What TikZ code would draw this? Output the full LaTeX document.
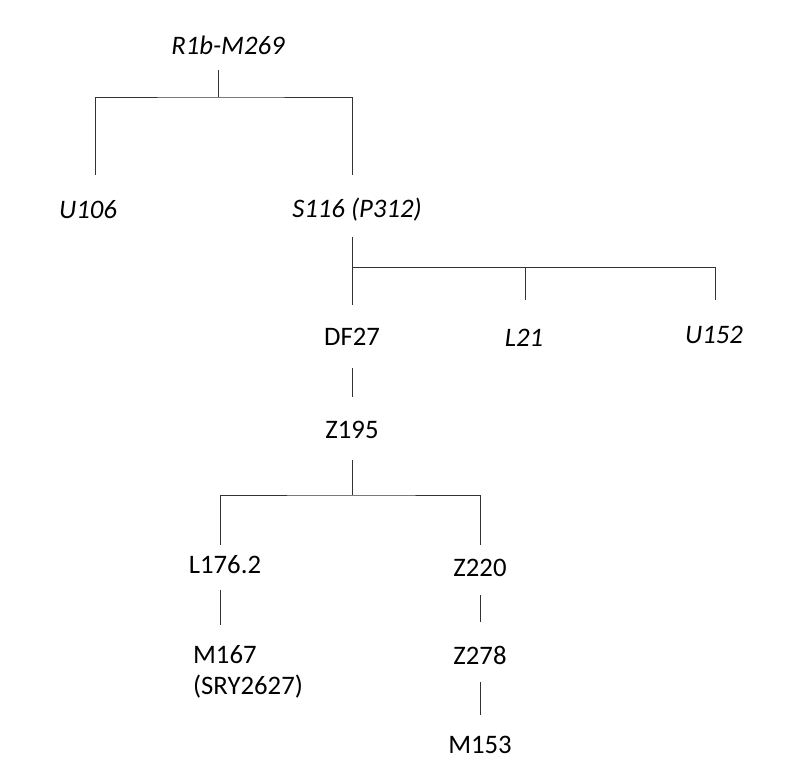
\documentclass[tikz,border=0pt]{standalone}
\usepackage{fontspec}
\setmainfont{Carlito}
\usetikzlibrary{positioning}
\begin{document}
\begin{tikzpicture}[x=0.025cm, y=-0.025cm,
    hap/.style={font=\fontsize{19}{22}\selectfont, inner sep=2pt},
    ital/.style={hap, font=\fontsize{19}{22}\selectfont\itshape},
    link/.style={draw, line width=0.7pt, black!80}
]
\useasboundingbox (0,0) rectangle (800,780);

% upper part of the tree
\node[ital] (R1b) at (228,45) {R1b-M269};
\node[ital] (U106) at (88,210) {U106};
\node[ital] (S116) at (357,210) {S116 (P312)};
\node[hap] (DF27) at (352,337) {DF27};
\node[ital] (L21) at (524,338) {L21};
\node[ital] (U152) at (714,335) {U152};

% lower part of the tree
\node[hap] (Z195) at (352,430) {Z195};
\node[hap] (L176) at (225,565) {L176.2};
\node[hap] (Z220) at (480,568) {Z220};
\node[hap, align=left] (M167) at (248,672) {M167\\(SRY2627)};
\node[hap] (Z278) at (480,655) {Z278};
\node[hap] (M153) at (480,745) {M153};

\coordinate (j1) at (218,97);
\coordinate (j2) at (352,267);
\coordinate (j3) at (352,495);

% connections
\path[link] (218,70) -- (j1);
\path[link] (95,175) |- (j1) -| (352,175);
\path[link] (352,237) -- (352,305);
\path[link] (j2) -| (525,300);
\path[link] (j2) -| (715,300);
\path[link] (DF27) ++(0,31) -- ++(0,29);
\path[link] (352,460) -- (j3);
\path[link] (220,545) |- (j3) -| (480,545);
\path[link] (220,590) -- (220,625);
\path[link] (480,595) -- (480,622);
\path[link] (480,682) -- (480,715);
\end{tikzpicture}
\end{document}
